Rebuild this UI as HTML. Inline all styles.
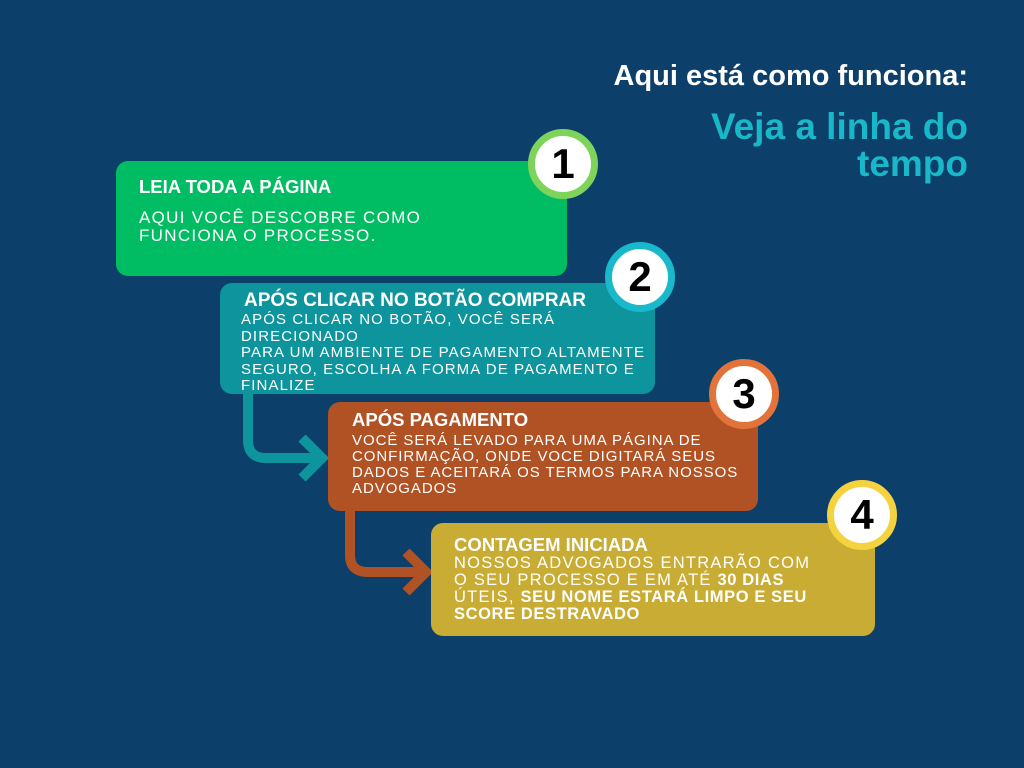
<!DOCTYPE html>
<html><head><meta charset="utf-8"><style>
body{margin:0;width:1024px;height:768px;background:#0d3f6b;position:relative;overflow:hidden;font-family:"Liberation Sans",sans-serif;color:#fff}
.t{position:absolute;right:56px;text-align:right;font-weight:bold}
.box{position:absolute;border-radius:12px}
.h{position:absolute;font-weight:bold;font-size:18px;white-space:nowrap}
.p{position:absolute;font-size:14.5px;letter-spacing:1.2px;line-height:17px;white-space:nowrap}
.c{position:absolute;border-radius:50%;background:#fff;box-sizing:border-box;text-align:center;color:#000;font-weight:bold;font-size:42px}
</style></head><body>
<div class="t" style="top:60px;font-size:29px">Aqui está como funciona:</div>
<div class="t" style="top:108px;font-size:37px;line-height:37px;color:#19b8c8">Veja a linha do<br>tempo</div>

<svg width="1024" height="768" style="position:absolute;left:0;top:0">
<path d="M248 392 V440 Q248 458 266 458 H318" fill="none" stroke="#0e949c" stroke-width="10"/>
<path d="M302 438 L322 458 L302 478" fill="none" stroke="#0e949c" stroke-width="10"/>
<path d="M350 508 V555 Q350 572 368 572 H422" fill="none" stroke="#b05224" stroke-width="10"/>
<path d="M406 552 L426 572 L406 592" fill="none" stroke="#b05224" stroke-width="10"/>
</svg>

<div class="box" style="left:116px;top:161px;width:451px;height:115px;background:#00bd63"></div>
<div class="h" style="left:139px;top:176px;font-size:18.5px">LEIA TODA A PÁGINA</div>
<div class="p" style="left:139px;top:209px;font-size:17px;line-height:18px;letter-spacing:1.3px">AQUI VOCÊ DESCOBRE COMO<br>FUNCIONA O PROCESSO.</div>

<div class="box" style="left:220px;top:283px;width:435px;height:111px;background:#0e949c"></div>
<div class="h" style="left:244px;top:290px;font-size:19px">APÓS CLICAR NO BOTÃO COMPRAR</div>
<div class="p" style="left:241px;top:312px;line-height:16.5px;font-size:15px;letter-spacing:1.1px">APÓS CLICAR NO BOTÃO, VOCÊ SERÁ<br>DIRECIONADO<br>PARA UM AMBIENTE DE PAGAMENTO ALTAMENTE<br>SEGURO, ESCOLHA A FORMA DE PAGAMENTO E<br>FINALIZE</div>

<div class="box" style="left:328px;top:402px;width:430px;height:109px;background:#b05224"></div>
<div class="h" style="left:352px;top:409px;font-size:18.5px">APÓS PAGAMENTO</div>
<div class="p" style="left:352px;top:433px;line-height:16px;font-size:15px;letter-spacing:0.95px">VOCÊ SERÁ LEVADO PARA UMA PÁGINA DE<br>CONFIRMAÇÃO, ONDE VOCE DIGITARÁ SEUS<br>DADOS E ACEITARÁ OS TERMOS PARA NOSSOS<br>ADVOGADOS</div>

<div class="box" style="left:431px;top:523px;width:444px;height:113px;background:#c9ac33"></div>
<div class="h" style="left:454px;top:534px;font-size:18.5px">CONTAGEM INICIADA</div>
<div class="p" style="left:454px;top:555px;line-height:17px;font-size:16.5px;letter-spacing:1.25px">NOSSOS ADVOGADOS ENTRARÃO COM<br>O SEU PROCESSO E EM ATÉ <b style="letter-spacing:0.6px">30 DIAS</b><br>ÚTEIS, <b style="letter-spacing:0.6px">SEU NOME ESTARÁ LIMPO E SEU<br>SCORE DESTRAVADO</b></div>

<div class="c" style="left:528px;top:129px;width:70px;height:70px;border:7px solid #7ed35a;line-height:56px">1</div>
<div class="c" style="left:605px;top:242px;width:70px;height:70px;border:7px solid #19b8ca;line-height:56px">2</div>
<div class="c" style="left:709px;top:359px;width:70px;height:70px;border:7px solid #e2733a;line-height:56px">3</div>
<div class="c" style="left:827px;top:480px;width:70px;height:70px;border:7px solid #f5d23f;line-height:56px">4</div>
</body></html>
